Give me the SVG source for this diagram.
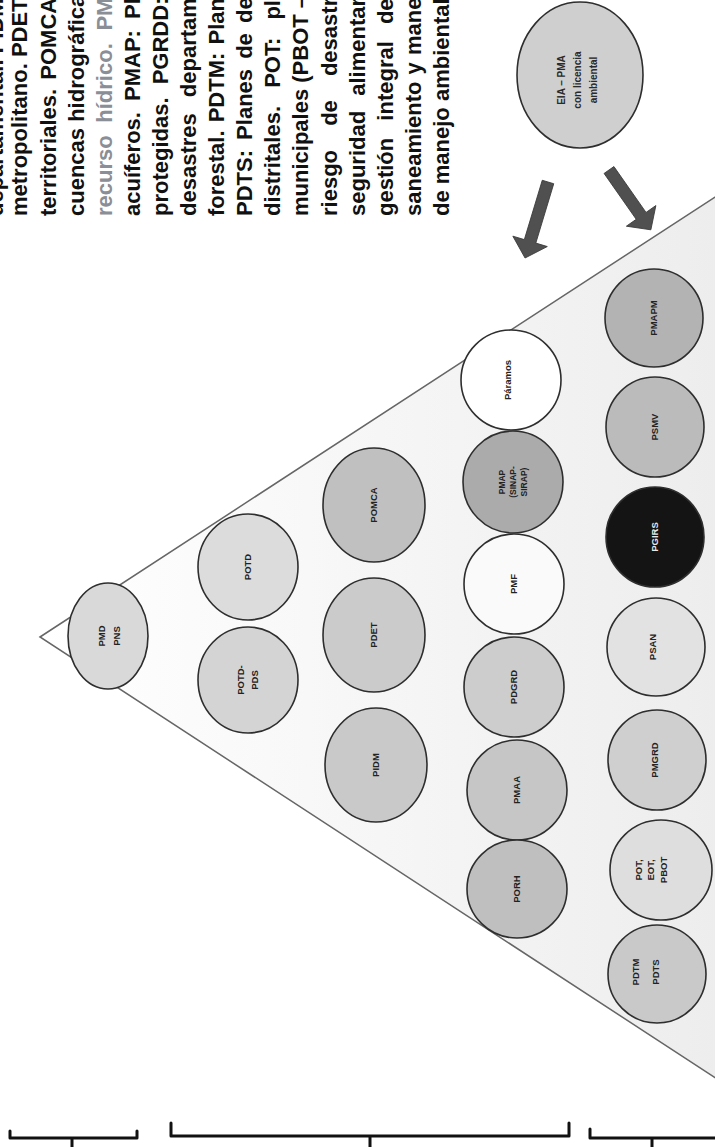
<svg xmlns="http://www.w3.org/2000/svg" width="715" height="1147" viewBox="0 0 715 1147">
<style>
.par{font-family:"Liberation Sans",Arial,sans-serif;font-weight:bold;font-size:22px;fill:#111}
.lb{font-family:"Liberation Sans",Arial,sans-serif;font-weight:bold;font-size:9.5px;fill:#222;text-anchor:middle}
.nd{stroke:#2e2e2e;stroke-width:1.6}
.br{fill:none;stroke:#111;stroke-width:3;stroke-linejoin:round;stroke-linecap:round}
.ar{fill:#505050;stroke:#3a3a3a;stroke-width:0.8}
</style>
<defs>
<linearGradient id="tri" x1="0" y1="0" x2="1" y2="0">
<stop offset="0" stop-color="#ffffff"/>
<stop offset="1" stop-color="#ececec"/>
</linearGradient>
</defs>
<rect x="0" y="0" width="715" height="1147" fill="#ffffff"/>
<g id="paragraph" class="par">
<text transform="translate(3,216) rotate(-90)">departamental. PIDM</text>
<text transform="translate(27.4,216) rotate(-90)">metropolitano. PDET</text>
<text transform="translate(55.5,216) rotate(-90)" word-spacing="3">territoriales. POMCA</text>
<text transform="translate(83.6,216) rotate(-90)">cuencas hidrográfica</text>
<text transform="translate(111.7,216) rotate(-90)" word-spacing="6.5" fill="#8a8e96">recurso hídrico. PM</text>
<text transform="translate(139.8,216) rotate(-90)" word-spacing="5">acuíferos. PMAP: Pl</text>
<text transform="translate(167.9,216) rotate(-90)" word-spacing="7">protegidas. PGRDD:</text>
<text transform="translate(196,216) rotate(-90)" word-spacing="10">desastres departam</text>
<text transform="translate(224.1,216) rotate(-90)" word-spacing="2">forestal. PDTM: Plan</text>
<text transform="translate(252.2,216) rotate(-90)" word-spacing="4">PDTS: Planes de de</text>
<text transform="translate(280.3,216) rotate(-90)" word-spacing="12">distritales. POT: pl</text>
<text transform="translate(308.4,216) rotate(-90)">municipales (PBOT –</text>
<text transform="translate(336.5,216) rotate(-90)" word-spacing="18">riesgo de desastr</text>
<text transform="translate(364.6,216) rotate(-90)" word-spacing="9">seguridad alimentar</text>
<text transform="translate(392.7,216) rotate(-90)" word-spacing="11">gestión integral de</text>
<text transform="translate(420.8,216) rotate(-90)" word-spacing="1">saneamiento y mane</text>
<text transform="translate(448.9,216) rotate(-90)">de manejo ambiental</text>
</g>
<g id="pyramid">
<polygon points="40,637 760,167.7 760,1107" fill="url(#tri)" stroke="#666" stroke-width="1.5"/>
</g>
<g id="n-pmd"><ellipse class="nd" cx="108" cy="636" rx="40" ry="53" fill="#d9d9d9"/>
<text class="lb" transform="translate(109,636) rotate(-90)"><tspan x="0" y="-4.1">PMD</tspan><tspan x="0" y="10.9">PNS</tspan></text></g>
<g id="n-potd"><ellipse class="nd" cx="248" cy="567" rx="50" ry="53" fill="#dcdcdc"/>
<text class="lb" transform="translate(248,567) rotate(-90)"><tspan x="0" y="3.4">POTD</tspan></text></g>
<g id="n-potd-pds"><ellipse class="nd" cx="248" cy="680" rx="50" ry="53" fill="#d4d4d4"/>
<text class="lb" transform="translate(248,680) rotate(-90)"><tspan x="0" y="-3.6">POTD-</tspan><tspan x="0" y="10.4">PDS</tspan></text></g>
<g id="n-pomca"><ellipse class="nd" cx="374" cy="505" rx="51" ry="57" fill="#c0c0c0"/>
<text class="lb" transform="translate(374,505) rotate(-90)"><tspan x="0" y="3.4">POMCA</tspan></text></g>
<g id="n-pdet"><ellipse class="nd" cx="374" cy="635" rx="51" ry="57" fill="#cbcbcb"/>
<text class="lb" transform="translate(374,635) rotate(-90)"><tspan x="0" y="3.4">PDET</tspan></text></g>
<g id="n-pidm"><ellipse class="nd" cx="376" cy="765" rx="51" ry="57" fill="#c9c9c9"/>
<text class="lb" transform="translate(376,765) rotate(-90)"><tspan x="0" y="3.4">PIDM</tspan></text></g>
<g id="n-paramos"><ellipse class="nd" cx="511" cy="380" rx="50" ry="50" fill="#ffffff"/>
<text class="lb" transform="translate(508,380) rotate(-90)"><tspan x="0" y="3.4">Páramos</tspan></text></g>
<g id="n-pmap"><ellipse class="nd" cx="513" cy="482" rx="50" ry="51" fill="#ababab"/>
<text class="lb" style="font-size:8.5px" transform="translate(513,482) rotate(-90)"><tspan x="0" y="-7.6">PMAP</tspan><tspan x="0" y="3.4">(SINAP-</tspan><tspan x="0" y="14.4">SIRAP)</tspan></text></g>
<g id="n-pmf"><ellipse class="nd" cx="514" cy="584" rx="50" ry="50" fill="#fafafa"/>
<text class="lb" transform="translate(514,584) rotate(-90)"><tspan x="0" y="3.4">PMF</tspan></text></g>
<g id="n-pdgrd"><ellipse class="nd" cx="514" cy="687" rx="50" ry="50" fill="#cdcdcd"/>
<text class="lb" transform="translate(514,687) rotate(-90)"><tspan x="0" y="3.4">PDGRD</tspan></text></g>
<g id="n-pmaa"><ellipse class="nd" cx="517" cy="790" rx="50" ry="50" fill="#c6c6c6"/>
<text class="lb" transform="translate(517,790) rotate(-90)"><tspan x="0" y="3.4">PMAA</tspan></text></g>
<g id="n-porh"><ellipse class="nd" cx="517" cy="889" rx="50" ry="49" fill="#bfbfbf"/>
<text class="lb" transform="translate(517,889) rotate(-90)"><tspan x="0" y="3.4">PORH</tspan></text></g>
<g id="n-pmapm"><ellipse class="nd" cx="654" cy="318" rx="49" ry="49" fill="#b3b3b3"/>
<text class="lb" transform="translate(654,318) rotate(-90)"><tspan x="0" y="3.4">PMAPM</tspan></text></g>
<g id="n-psmv"><ellipse class="nd" cx="655" cy="427" rx="49" ry="50" fill="#bbbbbb"/>
<text class="lb" transform="translate(655,427) rotate(-90)"><tspan x="0" y="3.4">PSMV</tspan></text></g>
<g id="n-pgirs"><ellipse class="nd" cx="655" cy="537" rx="49" ry="50" fill="#141414"/>
<text class="lb" style="fill:#e8e8e8" transform="translate(655,537) rotate(-90)"><tspan x="0" y="3.4">PGIRS</tspan></text></g>
<g id="n-psan"><ellipse class="nd" cx="656" cy="647" rx="49" ry="49" fill="#e2e2e2"/>
<text class="lb" transform="translate(653,647) rotate(-90)"><tspan x="0" y="3.4">PSAN</tspan></text></g>
<g id="n-pmgrd"><ellipse class="nd" cx="657" cy="760" rx="49" ry="50" fill="#cfcfcf"/>
<text class="lb" transform="translate(655,760) rotate(-90)"><tspan x="0" y="3.4">PMGRD</tspan></text></g>
<g id="n-pot"><ellipse class="nd" cx="661" cy="870" rx="51" ry="50" fill="#dedede"/>
<text class="lb" transform="translate(651,870) rotate(-90)"><tspan x="0" y="-9.1">POT,</tspan><tspan x="0" y="3.4">EOT,</tspan><tspan x="0" y="15.9">PBOT</tspan></text></g>
<g id="n-pdtm"><ellipse class="nd" cx="657" cy="974" rx="49" ry="49" fill="#c9c9c9"/>
<text class="lb" transform="translate(646,972) rotate(-90)"><tspan x="0" y="-6.6">PDTM</tspan><tspan x="0" y="13.4">PDTS</tspan></text></g>
<g id="n-eia"><ellipse class="nd" cx="580" cy="75" rx="63" ry="73" fill="#cfcfcf"/>
<text class="lb" style="font-size:10px;fill:#2a2a2a" transform="translate(577,80) rotate(-90)"><tspan x="0" y="-12.4">EIA – PMA</tspan><tspan x="0" y="3.6">con licencia</tspan><tspan x="0" y="19.6">ambiental</tspan></text></g>
<g id="connectors">
<path class="ar" transform="translate(548,182) rotate(106.8)" d="M0,-6 H62 V-18 L79.4,0 L62,18 V6 H0 Z"/>
<path class="ar" transform="translate(609,170) rotate(55)" d="M0,-6 H56 V-18 L73,0 L56,18 V6 H0 Z"/>
</g>
<g id="brackets">
<path class="br" d="M10,1131 V1138 H137 V1131 M72,1138 V1147"/>
<path class="br" d="M171,1123 V1136 H569 V1123 M370,1136 V1147"/>
<path class="br" d="M590,1129 V1138 H716 M652,1138 V1147"/>
</g>
</svg>
